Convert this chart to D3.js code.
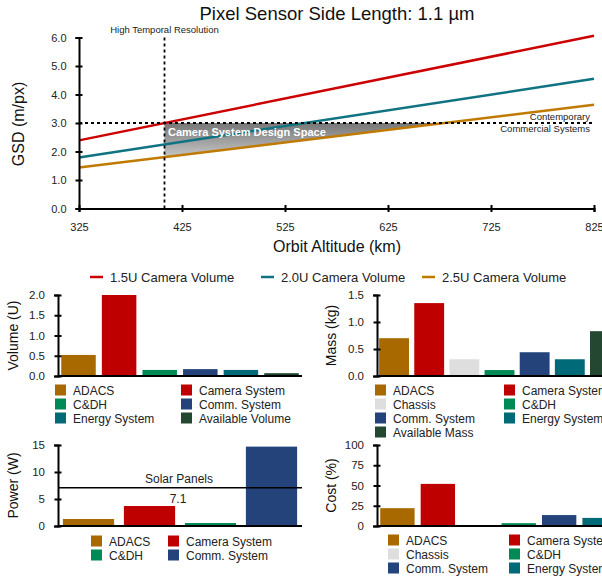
<!DOCTYPE html>
<html>
<head>
<meta charset="utf-8">
<script src="https://cdn.jsdelivr.net/npm/d3@7"></script>
<style>
  body { margin: 0; background: #fff; }
  svg { font-family: "Liberation Sans", Arial, sans-serif; }
  .axis path, .axis line { stroke: #000; stroke-width: 2; }
  .axis text { fill: #222; }
</style>
</head>
<body>
<div id="chart"></div>
<script>
// top chart data
var altitudes = [325, 825];
var gsd15 = [2.39, 6.06];
var gsd20 = [1.79, 4.55];
var gsd25 = [1.44, 3.64];
var seriesNames = ["1.5U Camera Volume", "2.0U Camera Volume", "2.5U Camera Volume"];
var altTicks = [325, 425, 525, 625, 725, 825];
var gsdTicks = [0, 1, 2, 3, 4, 5, 6];
var temporalAlt = 408;
var commercialGSD = 3.0;

// subsystem budgets
var volumeCats = ["ADACS", "Camera System", "C&DH", "Comm. System", "Energy System", "Available Volume"];
var volumeVals = [0.52, 2.0, 0.15, 0.17, 0.15, 0.07];
var massCats = ["ADACS", "Camera System", "Chassis", "C&DH", "Comm. System", "Energy System", "Available Mass"];
var massVals = [0.70, 1.35, 0.31, 0.11, 0.44, 0.31, 0.83];
var powerCats = ["ADACS", "Camera System", "C&DH", "Comm. System"];
var powerVals = [1.3, 3.7, 0.55, 14.7];
var solarPower = 7.1;
var costCats = ["ADACS", "Camera System", "Chassis", "C&DH", "Comm. System", "Energy System"];
var costVals = [22, 52, 1, 3.5, 13.5, 10];

var lineColors = ["#cc0000", "#0f7382", "#c07a00"];
var catColor = {
  "ADACS": "#a86a00",
  "Camera System": "#bf0000",
  "Chassis": "#dedede",
  "C&DH": "#008a55",
  "Comm. System": "#23437a",
  "Energy System": "#006a78",
  "Available Volume": "#244732",
  "Available Mass": "#244732"
};

var svg = d3.select("#chart")
  .append("svg")
    .attr("width", 602)
    .attr("height", 577);

// ---------- top chart ----------
var x = d3.scaleLinear().domain([325, 825]).range([79, 594]);
var y = d3.scaleLinear().domain([0, 6]).range([208.5, 37.5]);

svg.append("text")
  .attr("x", 337).attr("y", 20)
  .attr("text-anchor", "middle")
  .attr("font-size", "18.5px")
  .attr("fill", "#111")
  .text("Pixel Sensor Side Length: 1.1 µm");

// shaded design space
var orange = d3.scaleLinear().domain(altitudes).range(gsd25);
var crossAlt = orange.invert(commercialGSD);
var grad = svg.append("defs").append("linearGradient")
  .attr("id", "space")
  .attr("gradientUnits", "userSpaceOnUse")
  .attr("x1", 0).attr("y1", y(commercialGSD))
  .attr("x2", 0).attr("y2", y(orange(temporalAlt)));
grad.append("stop").attr("offset", 0).attr("stop-color", "#767676");
grad.append("stop").attr("offset", 1).attr("stop-color", "#c6c6c6");

var area = [[temporalAlt, commercialGSD], [crossAlt, commercialGSD],
            [crossAlt, orange(crossAlt)], [temporalAlt, orange(temporalAlt)]];
svg.append("path")
  .attr("d", d3.line().x(function(d) { return x(d[0]); }).y(function(d) { return y(d[1]); })(area) + "Z")
  .attr("fill", "url(#space)");

// lines
var lineGen = d3.line()
  .x(function(d) { return x(d[0]); })
  .y(function(d) { return y(d[1]); });
[gsd15, gsd20, gsd25].forEach(function(vals, i) {
  svg.append("path")
    .datum(altitudes.map(function(a, j) { return [a, vals[j]]; }))
    .attr("d", lineGen)
    .attr("fill", "none")
    .attr("stroke", lineColors[i])
    .attr("stroke-width", 2.5);
});

// reference dashed lines
svg.append("line")
  .attr("x1", x(325)).attr("x2", x(825))
  .attr("y1", y(commercialGSD)).attr("y2", y(commercialGSD))
  .attr("stroke", "#000").attr("stroke-width", 1.8)
  .attr("stroke-dasharray", "3,3");
svg.append("line")
  .attr("x1", x(temporalAlt)).attr("x2", x(temporalAlt))
  .attr("y1", y(6)).attr("y2", y(0))
  .attr("stroke", "#000").attr("stroke-width", 1.8)
  .attr("stroke-dasharray", "3,3");

svg.append("text")
  .attr("x", 168).attr("y", 136)
  .attr("font-size", "11px").attr("font-weight", "bold")
  .attr("fill", "#fff")
  .text("Camera System Design Space");

svg.append("text")
  .attr("x", x(temporalAlt)).attr("y", 33)
  .attr("text-anchor", "middle")
  .attr("font-size", "9.5px").attr("fill", "#222")
  .text("High Temporal Resolution");
svg.append("text")
  .attr("x", 590).attr("y", 120)
  .attr("text-anchor", "end")
  .attr("font-size", "9.5px").attr("fill", "#222")
  .text("Contemporary");
svg.append("text")
  .attr("x", 590).attr("y", 132)
  .attr("text-anchor", "end")
  .attr("font-size", "9.5px").attr("fill", "#222")
  .text("Commercial Systems");

// axes
function crossTicks(g, horizontal) {
  g.selectAll(".tick line")
    .attr(horizontal ? "y1" : "x1", -3.5)
    .attr(horizontal ? "y2" : "x2", 3.5);
}
var gy = svg.append("g")
  .attr("class", "axis")
  .attr("transform", "translate(" + x(325) + ",0)")
  .call(d3.axisLeft(y).tickValues(gsdTicks).tickFormat(d3.format(".1f")).tickSizeOuter(0).tickSize(3.5).tickPadding(9));
crossTicks(gy, false);
gy.selectAll("text").attr("font-size", "11px");

var gx = svg.append("g")
  .attr("class", "axis")
  .attr("transform", "translate(0," + y(0) + ")")
  .call(d3.axisBottom(x).tickValues(altTicks).tickSizeOuter(0).tickSize(3.5).tickPadding(11));
crossTicks(gx, true);
gx.selectAll("text").attr("font-size", "11px");

svg.append("text")
  .attr("x", 337).attr("y", 252)
  .attr("text-anchor", "middle")
  .attr("font-size", "16px").attr("fill", "#111")
  .text("Orbit Altitude (km)");
svg.append("text")
  .attr("transform", "translate(24,124) rotate(-90)")
  .attr("text-anchor", "middle")
  .attr("font-size", "16px").attr("fill", "#111")
  .text("GSD (m/px)");

// top legend
var legX = [90, 261, 422];
seriesNames.forEach(function(name, i) {
  svg.append("line")
    .attr("x1", legX[i]).attr("x2", legX[i] + 13)
    .attr("y1", 277).attr("y2", 277)
    .attr("stroke", lineColors[i]).attr("stroke-width", 2.5);
  svg.append("text")
    .attr("x", legX[i] + 20).attr("y", 281.5)
    .attr("font-size", "13px").attr("fill", "#222")
    .text(name);
});

// ---------- bar panels ----------
function barPanel(opt) {
  var bx = d3.scaleBand().domain(opt.cats).range([opt.left, opt.right])
    .paddingInner(opt.pad).paddingOuter(opt.outer);
  var by = d3.scaleLinear().domain(opt.domain).range([opt.bottom, opt.top]);

  svg.append("g")
    .selectAll("rect")
    .data(opt.vals)
    .enter()
    .append("rect")
      .attr("x", function(d, i) { return bx(opt.cats[i]); })
      .attr("y", function(d) { return by(d); })
      .attr("width", bx.bandwidth())
      .attr("height", function(d) { return by(0) - by(d); })
      .attr("fill", function(d, i) { return catColor[opt.cats[i]]; });

  svg.append("line")
    .attr("x1", opt.left).attr("x2", opt.right)
    .attr("y1", by(0)).attr("y2", by(0))
    .attr("stroke", "#000").attr("stroke-width", 2);

  var g = svg.append("g")
    .attr("class", "axis")
    .attr("transform", "translate(" + opt.left + ",0)")
    .call(d3.axisLeft(by).tickValues(opt.ticks).tickFormat(opt.fmt).tickSizeOuter(0).tickSize(4).tickPadding(9));
  crossTicks(g, false);
  g.selectAll("text").attr("font-size", "11.5px");

  svg.append("text")
    .attr("transform", "translate(" + opt.titleX + "," + ((opt.top + opt.bottom) / 2) + ") rotate(-90)")
    .attr("text-anchor", "middle")
    .attr("font-size", "14px").attr("fill", "#111")
    .text(opt.title);

  // legend, two columns, row by row
  opt.cats.forEach(function(c, i) {
    var lx = opt.legX[i % 2];
    var ly = opt.legY + Math.floor(i / 2) * 14;
    svg.append("rect")
      .attr("x", lx).attr("y", ly - 5.5)
      .attr("width", 11).attr("height", 11)
      .attr("fill", catColor[c]);
    svg.append("text")
      .attr("x", lx + 18).attr("y", ly + 4.5)
      .attr("font-size", "12px").attr("fill", "#222")
      .text(c);
  });
  return by;
}

barPanel({
  cats: volumeCats, vals: volumeVals, left: 58, right: 302, top: 295, bottom: 376,
  pad: 0.15, outer: 0.08, domain: [0, 2], ticks: [0, 0.5, 1, 1.5, 2], fmt: d3.format(".1f"),
  title: "Volume (U)", titleX: 18, legX: [55, 181], legY: 390
});

barPanel({
  cats: massCats, vals: massVals, left: 377, right: 622, top: 295, bottom: 376,
  pad: 0.15, outer: 0.06, domain: [0, 1.5], ticks: [0, 0.5, 1, 1.5], fmt: d3.format(".1f"),
  title: "Mass (kg)", titleX: 336, legX: [375, 504], legY: 390
});

var py = barPanel({
  cats: powerCats, vals: powerVals, left: 58, right: 302, top: 445, bottom: 526,
  pad: 0.16, outer: 0.08, domain: [0, 15], ticks: [0, 5, 10, 15], fmt: d3.format("d"),
  title: "Power (W)", titleX: 18, legX: [91, 168], legY: 541
});

svg.append("line")
  .attr("x1", 58).attr("x2", 302)
  .attr("y1", py(solarPower)).attr("y2", py(solarPower))
  .attr("stroke", "#000").attr("stroke-width", 1.5);
svg.append("text")
  .attr("x", 179).attr("y", py(solarPower) - 5)
  .attr("text-anchor", "middle")
  .attr("font-size", "12px").attr("fill", "#222")
  .text("Solar Panels");
svg.append("text")
  .attr("x", 178).attr("y", py(solarPower) + 15)
  .attr("text-anchor", "middle")
  .attr("font-size", "12px").attr("fill", "#222")
  .text(solarPower);

barPanel({
  cats: costCats, vals: costVals, left: 377, right: 620, top: 445, bottom: 526,
  pad: 0.15, outer: 0.08, domain: [0, 100], ticks: [0, 25, 50, 75, 100], fmt: d3.format("d"),
  title: "Cost (%)", titleX: 336, legX: [388, 509], legY: 540
});
</script>
</body>
</html>
